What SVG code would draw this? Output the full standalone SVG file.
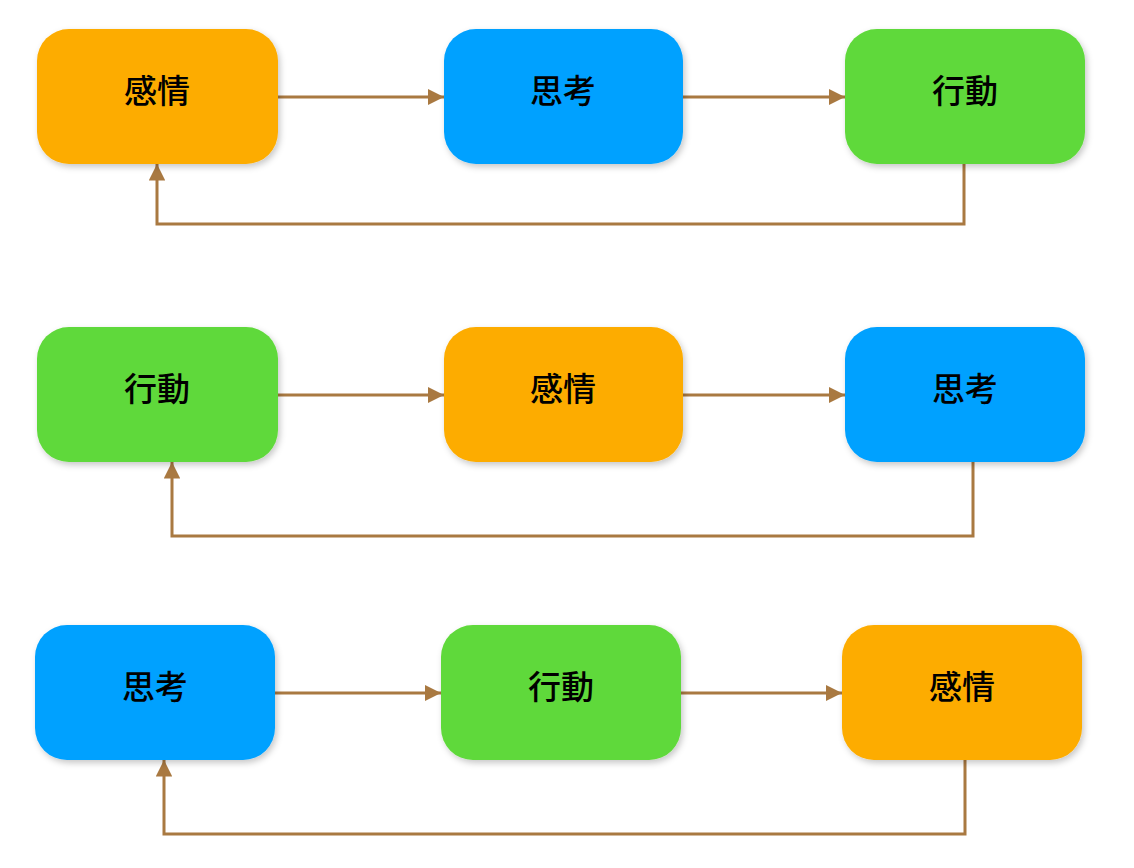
<svg xmlns="http://www.w3.org/2000/svg" width="1134" height="868" viewBox="0 0 1134 868">
<style>
.n{stroke:none;filter:url(#sh)}
.o{fill:#FDAC00}.b{fill:#00A1FF}.g{fill:#5FD93A}
.t{font-family:"Noto Sans CJK JP","Noto Sans CJK SC",sans-serif;font-size:33px;font-weight:500;fill:#000;text-anchor:middle;dominant-baseline:central}
.c{fill:none;stroke:#A97941;stroke-width:3;marker-end:url(#ah)}
</style>
<defs>
<filter id="sh" x="-10%" y="-10%" width="125%" height="130%">
<feDropShadow dx="2" dy="3" stdDeviation="3" flood-color="#000" flood-opacity="0.22"/>
</filter>
<marker id="ah" viewBox="0 0 10 10" refX="10" refY="5" markerWidth="5.5" markerHeight="5.5" orient="auto" markerUnits="strokeWidth">
<path d="M0,0 L10,5 L0,10 Z" fill="#A97941"/>
</marker>
</defs>
<rect width="1134" height="868" fill="#fff"/>
<g id="connectors">
<path class="c" d="M278,97 H444"/>
<path class="c" d="M683,97 H845"/>
<path class="c" d="M964,164 V224 H157 V164"/>
<path class="c" d="M278,395 H444"/>
<path class="c" d="M683,395 H845"/>
<path class="c" d="M973,462 V536 H172 V462"/>
<path class="c" d="M275,693 H441"/>
<path class="c" d="M681,693 H842"/>
<path class="c" d="M965,760 V834 H164 V760"/>
</g>
<g id="r1n1"><rect class="n o" x="37" y="29" width="241" height="135" rx="32"/><text class="t" x="157" y="89">感情</text></g>
<g id="r1n2"><rect class="n b" x="444" y="29" width="239" height="135" rx="32"/><text class="t" x="563" y="89">思考</text></g>
<g id="r1n3"><rect class="n g" x="845" y="29" width="240" height="135" rx="32"/><text class="t" x="965" y="89">行動</text></g>
<g id="r2n1"><rect class="n g" x="37" y="327" width="241" height="135" rx="32"/><text class="t" x="157" y="387">行動</text></g>
<g id="r2n2"><rect class="n o" x="444" y="327" width="239" height="135" rx="32"/><text class="t" x="563" y="387">感情</text></g>
<g id="r2n3"><rect class="n b" x="845" y="327" width="240" height="135" rx="32"/><text class="t" x="965" y="387">思考</text></g>
<g id="r3n1"><rect class="n b" x="35" y="625" width="240" height="135" rx="32"/><text class="t" x="155" y="685">思考</text></g>
<g id="r3n2"><rect class="n g" x="441" y="625" width="240" height="135" rx="32"/><text class="t" x="561" y="685">行動</text></g>
<g id="r3n3"><rect class="n o" x="842" y="625" width="240" height="135" rx="32"/><text class="t" x="962" y="685">感情</text></g>
</svg>
